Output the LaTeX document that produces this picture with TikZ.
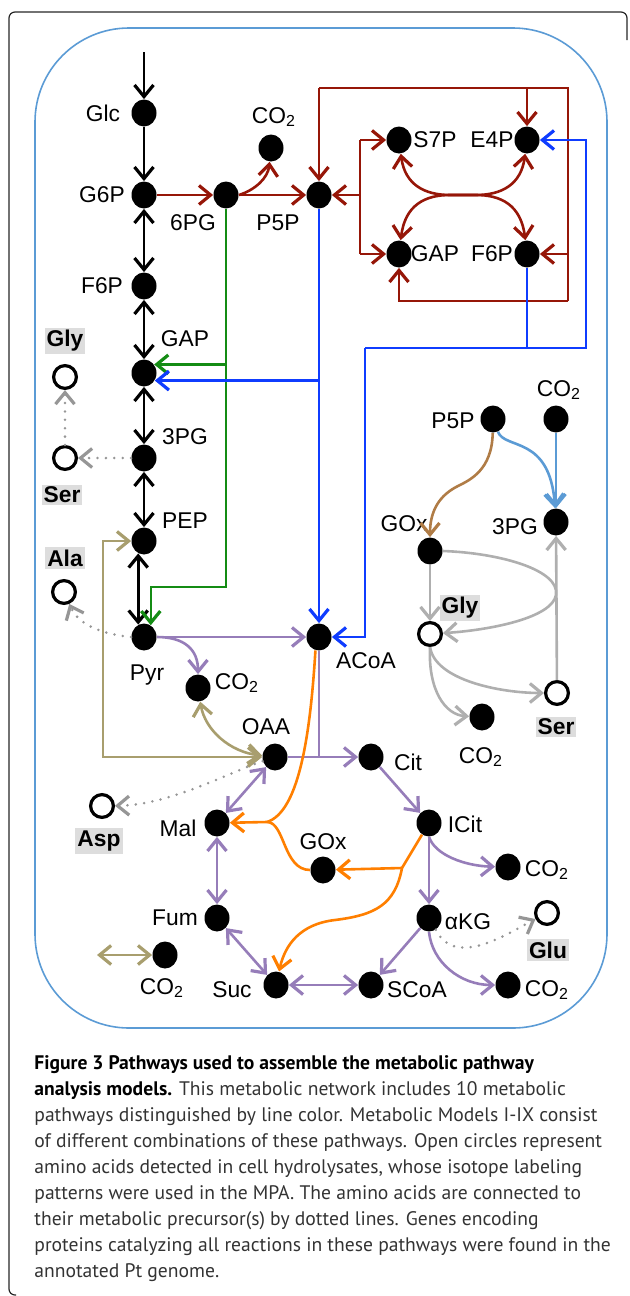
\documentclass[tikz,border=0pt]{standalone}
\usepackage{fontspec}
\setmainfont{Liberation Sans}
\newfontfamily\capfont{PT Sans}
\usetikzlibrary{arrows.meta,shapes.geometric}
\definecolor{ppred}{RGB}{150,22,8}
\definecolor{edgreen}{RGB}{20,140,20}
\definecolor{acblue}{RGB}{15,60,255}
\definecolor{tcpurple}{RGB}{150,125,185}
\definecolor{ankhaki}{RGB}{168,158,110}
\definecolor{gxorange}{RGB}{255,127,0}
\definecolor{gygray}{RGB}{175,175,175}
\definecolor{prgray}{RGB}{150,150,150}
\definecolor{srbrown}{RGB}{176,124,70}
\definecolor{srblue}{RGB}{91,155,213}
\definecolor{aabg}{RGB}{221,221,221}
\newcommand\labfont{\fontsize{11.4}{13}\selectfont}
\tikzset{
  met/.style={ellipse, fill=black, inner sep=0pt, minimum width=12.5pt, minimum height=13.5pt},
  amino/.style={circle, draw=black, line width=1.6pt, fill=white, inner sep=0pt, minimum size=11.4pt},
  lbl/.style={font=\labfont, inner sep=0pt},
  aalbl/.style={font=\labfont\bfseries, fill=aabg, inner xsep=1pt, inner ysep=1.2pt},
  capt/.style={anchor=north west, align=left, inner sep=0pt, font=\capfont\fontsize{9.8}{13}\selectfont, text=black!80},
  ln/.style={line width=1.3pt},
  kline/.style={ln, black},
  ppline/.style={ln, ppred},
  edline/.style={ln, edgreen},
  acline/.style={ln, acblue},
  tcline/.style={ln, tcpurple},
  anline/.style={ln, ankhaki},
  gxline/.style={ln, gxorange},
  gyline/.style={ln, gygray},
  brline/.style={ln, srbrown},
  lbline/.style={ln, srblue},
  prec/.style={prgray, line width=1.4pt, line cap=round, dash pattern=on 0pt off 4.2pt}
}

\begin{document}
\begin{tikzpicture}[x=0.5pt, y=-0.5pt, >={Straight Barb[length=5.8pt,width=9.5pt,line width=1.6pt]}]
  \useasboundingbox (0,0) rectangle (629,1296);
  % frames
  \draw[line width=0.6pt, black!85, rounded corners=3pt] (627,40) |- (9,12) |- (16,1295);
  \draw[srblue, line width=0.8pt, rounded corners=47pt] (35,28) rectangle (607,1028);

  % glycolysis
  \node[met] (glc) at (144,113) {};
  \node[met] (g6p) at (144,195) {};
  \node[met] (f6p) at (144,286) {};
  \node[met] (gap) at (144,373) {};
  \node[met] (pg3) at (144,458) {};
  \node[met] (pep) at (144,541) {};
  \node[met] (pyr) at (144,637) {};
  \node[lbl] (glcl) at (103,113) {Glc};
  \node[lbl] (g6pl) at (102,195) {G6P};
  \node[lbl] (f6pl) at (102,286) {F6P};
  \node[lbl] (gapl) at (185,339) {GAP};
  \node[lbl] (pg3l) at (185,437) {3PG};
  \node[lbl] (pepl) at (185,521) {PEP};
  \node[lbl] (pyrl) at (147,675) {Pyr};

  % pentose phosphate
  \node[met] (pg6) at (226,195) {};
  \node[met] (co2a) at (271,148) {};
  \node[met] (p5p) at (319,195) {};
  \node[met] (s7p) at (399,140) {};
  \node[met] (e4p) at (527,140) {};
  \node[met] (gapr) at (399,254) {};
  \node[met] (f6pr) at (527,254) {};
  \node[lbl] (pg6l) at (193,223) {6PG};
  \node[lbl] (co2al) at (274,117) {CO\textsubscript{2}};
  \node[lbl] (p5pl) at (278,223) {P5P};
  \node[lbl] (s7pl) at (435,140) {S7P};
  \node[lbl] (e4pl) at (492,140) {E4P};
  \node[lbl] (gaprl) at (435,254) {GAP};
  \node[lbl] (f6prl) at (492,254) {F6P};

  % TCA cycle
  \node[met] (acoa) at (319,637) {};
  \node[met] (co2b) at (198,688) {};
  \node[met] (oaa) at (275,757) {};
  \node[met] (cit) at (371,757) {};
  \node[met] (icit) at (429,823) {};
  \node[met] (co2c) at (508,867) {};
  \node[met] (akg) at (429,918) {};
  \node[met] (scoa) at (371,985) {};
  \node[met] (co2d) at (508,985) {};
  \node[met] (suc) at (276,985) {};
  \node[met] (fum) at (217,918) {};
  \node[met] (mal) at (217,823) {};
  \node[met] (goxb) at (323,870) {};
  \node[met] (co2e) at (165,955) {};
  \node[lbl] (acoal) at (366,661) {ACoA};
  \node[lbl] (co2bl) at (237,683) {CO\textsubscript{2}};
  \node[lbl] (oaal) at (266,727) {OAA};
  \node[lbl] (citl) at (408,762) {Cit};
  \node[lbl] (icitl) at (465,824) {ICit};
  \node[lbl] (co2cl) at (547,870) {CO\textsubscript{2}};
  \node[lbl] (akgl) at (468,922) {αKG};
  \node[lbl] (scoal) at (417,990) {SCoA};
  \node[lbl] (co2dl) at (547,990) {CO\textsubscript{2}};
  \node[lbl] (sucl) at (232,990) {Suc};
  \node[lbl] (fuml) at (175,918) {Fum};
  \node[lbl] (mall) at (178,828) {Mal};
  \node[lbl] (goxbl) at (323,842) {GOx};
  \node[lbl] (co2el) at (162,988) {CO\textsubscript{2}};

  % serine / glycine
  \node[met] (p5pr) at (493,419) {};
  \node[met] (co2g) at (556,419) {};
  \node[met] (pg3r) at (556,522) {};
  \node[met] (goxr) at (430,551) {};
  \node[met] (co2f) at (482,717) {};
  \node[lbl] (p5prl) at (453,421) {P5P};
  \node[lbl] (co2gl) at (559,390) {CO\textsubscript{2}};
  \node[lbl] (pg3rl) at (515,527) {3PG};
  \node[lbl] (goxrl) at (404,524) {GOx};
  \node[lbl] (co2fl) at (481,757) {CO\textsubscript{2}};

  % amino acids
  \node[amino] (glyl) at (65,377) {};
  \node[amino] (ser) at (65,458) {};
  \node[amino] (ala) at (64,592) {};
  \node[amino] (asp) at (102,806) {};
  \node[amino] (glu) at (547,913) {};
  \node[amino] (glyr) at (430,634) {};
  \node[amino] (serr) at (557,693) {};
  \node[aalbl] (glyll) at (65,341) {Gly};
  \node[aalbl] (serl) at (62,495) {Ser};
  \node[aalbl] (alal) at (65,558) {Ala};
  \node[aalbl] (aspl) at (99,841) {Asp};
  \node[aalbl] (glul) at (548,950) {Glu};
  \node[aalbl] (glyrl) at (460,608) {Gly};
  \node[aalbl] (serrl) at (556,727) {Ser};

  \coordinate (glcin) at (144,52);
  \coordinate (rtl) at (319,88);
  \coordinate (rtr) at (568,88);
  \coordinate (rbr) at (568,301);
  \coordinate (rbk) at (360,195);
  \coordinate (bsplit) at (365,348);
  \coordinate (bright) at (586,348);
  \coordinate (gdown) at (151,587);
  \coordinate (kbl) at (103,757);
  \coordinate (kco2) at (97,955);
  \coordinate (oj1) at (267,822);
  \coordinate (oj2) at (402,868);

  % black
  \draw[kline,->] (glcin) -- (glc);
  \draw[kline,->] (glc) -- (g6p);
  \draw[kline,<->] (g6p) -- (f6p);
  \draw[kline,<->] (f6p) -- (gap);
  \draw[kline,<->] (gap) -- (pg3);
  \draw[kline,<->] (pg3) -- (pep);
  \draw[kline,<->] (pep.245) -- (pyr.115);

  % dark red
  \draw[ppline,->] (g6p) -- (pg6);
  \draw[ppline,->] (pg6) -- (p5p);
  \draw[ppline,->] (pg6.east) .. controls (255,190) and (268,178) .. (co2a);
  \draw[ppline] (rtl) -- (rtr) -- (rbr);
  \draw[ppline,->] (rtl) -- (p5p);
  \draw[ppline,->] (rbr) -| (gapr);
  \draw[ppline,->] (e4p |- rtl) -- (e4p);
  \draw[ppline,->] (f6pr -| rtr) -- (f6pr);
  \draw[ppline,->] (rbk) -- (p5p);
  \draw[ppline] (rbk |- s7p) -- (rbk |- gapr);
  \draw[ppline,->] (rbk |- s7p) -- (s7p);
  \draw[ppline,->] (rbk |- gapr) -- (gapr);
  \draw[ppline,<->] (s7p) .. controls (405,185) and (425,195) .. (450,195) -- (476,195) .. controls (501,195) and (521,185) .. (e4p);
  \draw[ppline,<->] (gapr) .. controls (405,205) and (425,195) .. (450,195) -- (476,195) .. controls (501,195) and (521,205) .. (f6pr);

  % green
  \draw[edline,->] (pg6) |- (gdown) -| (pyr.60);
  \draw[edline,->] (gap.40 -| pg6) -- (gap.40);

  % blue
  \draw[acline,->] (p5p) -- (acoa);
  \draw[acline,->] (gap.-35 -| p5p) -- (gap.-35);
  \draw[acline] (f6pr) -- (f6pr |- bsplit);
  \draw[acline,->] (bsplit) -| (e4p -| bright) -- (e4p);
  \draw[acline,->] (bsplit) |- (acoa);

  % purple
  \draw[tcline,->] (pyr) -- (acoa);
  \draw[tcline,->] (pyr.east) .. controls (185,637) and (198,650) .. (co2b);
  \draw[tcline] (acoa) -- (acoa |- oaa);
  \draw[tcline,->] (oaa) -- (cit);
  \draw[tcline,->] (cit) -- (icit);
  \draw[tcline,->] (icit) -- (akg);
  \draw[tcline,->] (icit.south) .. controls (435,855) and (465,866) .. (co2c);
  \draw[tcline,->] (akg) -- (scoa);
  \draw[tcline,->] (akg.south) .. controls (432,962) and (460,985) .. (co2d);
  \draw[tcline,<->] (suc) -- (scoa);
  \draw[tcline,<->] (fum) -- (suc);
  \draw[tcline,<->] (mal) -- (fum);
  \draw[tcline,<->] (oaa) -- (mal);

  % khaki
  \draw[anline,<->] (co2b) .. controls (205,730) and (230,752) .. (oaa);
  \draw[anline,<->] (pep) -| (kbl) -- (oaa);
  \draw[anline,<->] (kco2) -- (co2e);

  % orange
  \draw[gxline] (acoa.255) .. controls (310,740) and (298,812) .. (oj1);
  \draw[gxline,->] (oj1) -- (mal);
  \draw[gxline] (oj1) .. controls (285,822) and (283,870) .. (goxb);
  \draw[gxline] (icit) -- (oj2);
  \draw[gxline,->] (oj2) -- (goxb);
  \draw[gxline,->] (oj2) .. controls (395,905) and (375,915) .. (335,920) .. controls (300,924) and (285,945) .. (suc);

  % serine / glycine
  \draw[brline,->] (p5pr) .. controls (492,470) and (470,480) .. (458,486) .. controls (440,495) and (430,510) .. (goxr);
  \draw[lbline,->] (p5pr) .. controls (505,450) and (550,435) .. (pg3r);
  \draw[lbline,->] (co2g) -- (pg3r);
  \draw[gyline,->] (goxr) -- (glyr);
  \draw[gyline,->] (goxr.east) .. controls (500,553) and (560,570) .. (556,595) .. controls (552,618) and (490,630) .. (glyr);
  \draw[gyline,->] (serr) -- (pg3r);
  \draw[gyline,->] (glyr.south) .. controls (435,680) and (500,693) .. (serr);
  \draw[gyline,->] (glyr.south) .. controls (428,690) and (445,715) .. (co2f);

  % precursors
  \draw[prec,->] (pg3) -- (ser);
  \draw[prec,->] (ser) -- (glyl);
  \draw[prec,->] (pyr.west) .. controls (110,635) and (80,628) .. (ala);
  \draw[prec,->] (oaa) .. controls (230,772) and (170,805) .. (asp);
  \draw[prec,->] (akg.-60) .. controls (455,968) and (505,935) .. (glu);

  % caption
  \node[capt] (cap) at (34,1055) {{\color{black}\bfseries Figure 3 Pathways used to assemble the metabolic pathway}\\
{\color{black}\bfseries analysis models.} This metabolic network includes 10 metabolic\\
pathways distinguished by line color. Metabolic Models I-IX consist\\
of different combinations of these pathways. Open circles represent\\
amino acids detected in cell hydrolysates, whose isotope labeling\\
patterns were used in the MPA. The amino acids are connected to\\
their metabolic precursor(s) by dotted lines. Genes encoding\\
proteins catalyzing all reactions in these pathways were found in the\\
annotated Pt genome.};
\end{tikzpicture}
\end{document}
